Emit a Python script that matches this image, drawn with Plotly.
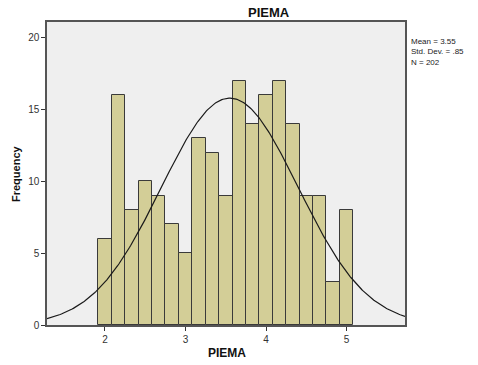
import numpy as np
import plotly.graph_objects as go

# Histogram of PIEMA scores (bin width 1/6)
bin_centers = [2 + k / 6 for k in range(19)]
frequencies = [6, 16, 8, 10, 9, 7, 5, 13, 12, 9, 17, 14, 16, 17, 14, 9, 9, 3, 8]
bin_width = 1 / 6

mean_val = 3.55
sd_val = 0.85
n_val = 202

x_range = [1.28, 5.725]
y_range = [0, 21.1]
x_ticks = [2, 3, 4, 5]
y_ticks = [0, 5, 10, 15, 20]

# Normal curve scaled to counts
xc = np.linspace(x_range[0], x_range[1], 300)
yc = n_val * bin_width / (sd_val * np.sqrt(2 * np.pi)) * np.exp(-0.5 * ((xc - mean_val) / sd_val) ** 2)

fig = go.Figure()
fig.add_trace(go.Bar(
    x=bin_centers, y=frequencies, width=bin_width,
    marker=dict(color="#D3CE97", line=dict(color="#3A3A3A", width=1)),
    hoverinfo="x+y",
))
fig.add_trace(go.Scatter(
    x=xc, y=yc, mode="lines",
    line=dict(color="#1A1A1A", width=1.2),
    hoverinfo="skip",
))

FONT = "Liberation Sans, Arial, sans-serif"
W, H = 478, 365
ML, MR, MT, MB = 47, 73, 22, 40
PW, PH = W - ML - MR, H - MT - MB

fig.update_layout(
    width=W, height=H,
    margin=dict(l=ML, r=MR, t=MT, b=MB, autoexpand=False),
    paper_bgcolor="white",
    plot_bgcolor="#EFEFEF",
    showlegend=False,
    bargap=0,
    font=dict(family=FONT, size=10, color="#333333"),
)
fig.update_xaxes(
    range=x_range, tickvals=x_ticks, ticktext=[str(t) for t in x_ticks],
    showgrid=False, zeroline=False, automargin=False,
    showline=True, linecolor="#555555", linewidth=1.5, mirror=True,
    ticks="outside", ticklen=4, tickcolor="#333333",
    tickfont=dict(size=10, color="#333333"),
)
fig.update_yaxes(
    range=y_range, tickvals=y_ticks, ticktext=[str(t) for t in y_ticks],
    showgrid=False, zeroline=False, automargin=False,
    showline=True, linecolor="#555555", linewidth=1.5, mirror=True,
    ticks="outside", ticklen=4, tickcolor="#333333",
    tickfont=dict(size=10, color="#333333"),
)

def px_x(px):
    return (px - ML) / PW

def px_y(py):
    return 1 - (py - MT) / PH

# Chart title
fig.add_annotation(
    text="<b>PIEMA</b>", xref="paper", yref="paper",
    x=px_x(269), y=px_y(13), xanchor="center", yanchor="middle",
    showarrow=False, font=dict(size=13, color="#111111"),
)
# Axis titles
fig.add_annotation(
    text="<b>PIEMA</b>", xref="paper", yref="paper",
    x=px_x(227), y=px_y(353), xanchor="center", yanchor="middle",
    showarrow=False, font=dict(size=12, color="#111111"),
)
fig.add_annotation(
    text="<b>Frequency</b>", xref="paper", yref="paper",
    x=px_x(16), y=px_y(173), xanchor="center", yanchor="middle",
    textangle=-90, showarrow=False, font=dict(size=11, color="#111111"),
)
# Summary statistics block
stat_lines = [
    f"Mean = {mean_val:.2f}",
    f"Std. Dev. = .{int(round(sd_val * 100))}",
    f"N = {n_val}",
]
fig.add_annotation(
    text="<br>".join(stat_lines), xref="paper", yref="paper",
    x=px_x(410), y=px_y(36),
    xanchor="left", yanchor="top", align="left", showarrow=False,
    borderpad=0,
    font=dict(size=8, color="#222222"),
)

fig.write_html("out.html")
